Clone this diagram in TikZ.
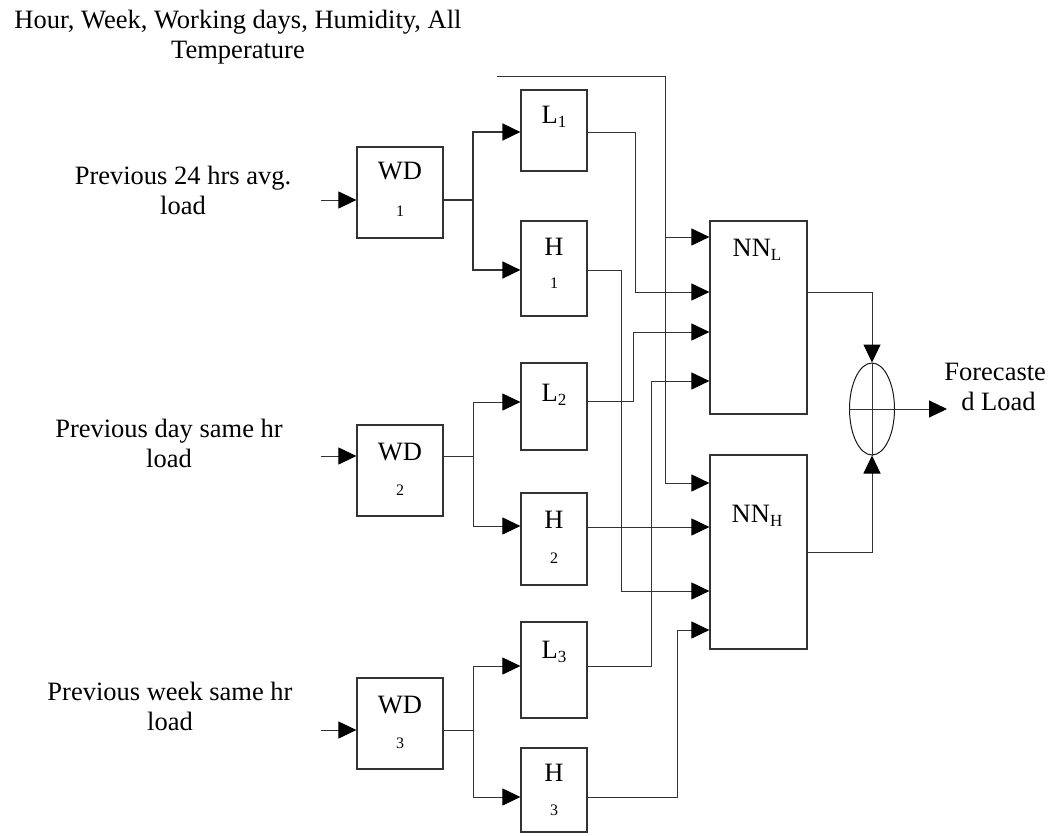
\documentclass[tikz,border=0pt]{standalone}
\usepackage{fontspec}
\setmainfont{Liberation Serif}
\usetikzlibrary{arrows.meta,shapes.geometric,fit}
\newcommand{\bigf}{\fontsize{13.25pt}{15pt}\selectfont}
\newcommand{\smallf}{\fontsize{8pt}{9pt}\selectfont}
\newcommand{\subf}[1]{\raisebox{-0.35ex}{\fontsize{8.5pt}{9pt}\selectfont #1}}
\begin{document}
\begin{tikzpicture}[x=0.5pt,y=-0.5pt,
  box/.style={draw=black!80,line width=0.6pt,inner sep=0pt,fit={#1}},
  wire/.style={draw=black!80,line width=0.5pt},
  arr/.style={wire,-{Triangle[length=9pt,width=8.5pt,color=black]}},
  lbl/.style={inner sep=0pt,font=\bigf,align=center},
  sml/.style={inner sep=0pt,font=\smallf}]
\useasboundingbox (0,0) rectangle (1054,835);

% boxes
\node[box={(357,147) (443,238)}] (WD1) {};
\node[box={(357,425) (443,516)}] (WD2) {};
\node[box={(357,678) (443,769)}] (WD3) {};
\node[box={(521,90) (587,171)}] (L1) {};
\node[box={(521,221) (587,316)}] (H1) {};
\node[box={(521,363) (587,450)}] (L2) {};
\node[box={(521,493) (587,585)}] (H2) {};
\node[box={(521,622) (587,718)}] (L3) {};
\node[box={(521,748) (587,832)}] (H3) {};
\node[box={(710,221) (807,414)}] (NNL) {};
\node[box={(710,455) (807,649)}] (NNH) {};
\node[draw=black!90,line width=0.5pt,ellipse,inner sep=0pt,minimum width=22.5pt,minimum height=46pt] (S) at (872,409) {};
\draw[wire] (S.north) -- (S.south);
\draw[wire] (S.west) -- (S.east);

% box labels
\node[lbl] (WD1a) at (400,171) {WD};
\node[sml] (WD1b) at (400,211) {1};
\node[lbl] (WD2a) at (400,452) {WD};
\node[sml] (WD2b) at (400,490) {2};
\node[lbl] (WD3a) at (400,705) {WD};
\node[sml] (WD3b) at (400,743) {3};
\node[lbl] (L1a) at (554,117) {L\subf{1}};
\node[lbl] (H1a) at (554,247) {H};
\node[sml] (H1b) at (554,283) {1};
\node[lbl] (L2a) at (554,395) {L\subf{2}};
\node[lbl] (H2a) at (554,520) {H};
\node[sml] (H2b) at (554,558) {2};
\node[lbl] (L3a) at (554,652) {L\subf{3}};
\node[lbl] (H3a) at (554,773) {H};
\node[sml] (H3b) at (554,810) {3};
\node[lbl] (NNLa) at (757,250) {NN\subf{L}};
\node[lbl] (NNHa) at (757,516) {NN\subf{H}};

% outside texts
\node[lbl] (top) at (238,37) {Hour, Week, Working days, Humidity, All\\Temperature};
\node[lbl] (p1) at (183,190) {Previous 24 hrs avg.\\load};
\node[lbl] (p2) at (169,443) {Previous day same hr\\load};
\node[lbl] (p3) at (170,706) {Previous week same hr\\load};
\node[lbl,anchor=west] (fl) at (944,387) {Forecaste\\\ d Load};

% inputs
\coordinate (in1) at (321,200);
\coordinate (in2) at (321,456);
\coordinate (in3) at (321,730);
\draw[arr] (in1) -- (in1 -| WD1.west);
\draw[arr] (in2) -- (in2 -| WD2.west);
\draw[arr] (in3) -- (in3 -| WD3.west);

% WD branches
\coordinate (br1) at (473,200);
\coordinate (br2) at (473,456);
\coordinate (br3) at (473,730);
\draw[wire,line width=0.8pt] (WD1.east |- br1) -- (br1);
\draw[wire] (WD2.east |- br2) -- (br2);
\draw[wire] (WD3.east |- br3) -- (br3);
\draw[arr,line width=0.8pt] (br1) |- (L1.west |- 0,132);
\draw[arr,line width=0.8pt] (br1) |- (H1.west |- 0,270);
\draw[arr] (br2) |- (L2.west |- 0,402);
\draw[arr] (br2) |- (H2.west |- 0,526);
\draw[arr] (br3) |- (L3.west |- 0,666);
\draw[arr] (br3) |- (H3.west |- 0,797);

% top wire
\coordinate (tw) at (497,76);
\coordinate (tv) at (665,76);
\draw[arr] (tw) -- (tv) -- (tv |- 0,483) -- (NNH.west |- 0,483);
\draw[arr] (tv |- 0,237) -- (NNL.west |- 0,237);

% L/H to NN
\draw[arr] (L1.east |- 0,132) -| (635,292) -- (NNL.west |- 0,292);
\draw[arr] (H1.east |- 0,270) -| (621,591) -- (NNH.west |- 0,591);
\draw[arr] (L2.east |- 0,401) -| (633,332) -- (NNL.west |- 0,332);
\draw[arr] (H2.east |- 0,527) -- (NNH.west |- 0,527);
\draw[arr] (L3.east |- 0,666) -| (651,381) -- (NNL.west |- 0,381);
\draw[arr] (H3.east |- 0,797) -| (677,630) -- (NNH.west |- 0,630);

% NN to sum
\draw[arr] (NNL.east |- 0,292) -| (S.north);
\draw[arr] (NNH.east |- 0,552) -| (S.south);
\coordinate (fc) at (947,409);
\draw[arr] (S.east) -- (fc);
\end{tikzpicture}
\end{document}
